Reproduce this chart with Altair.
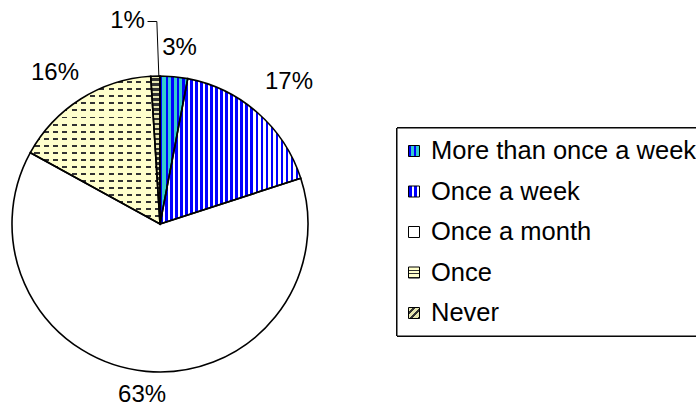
import altair as alt
import pandas as pd

# Survey answers: how often respondents did it
categories = ["More than once a week", "Once a week", "Once a month", "Once", "Never"]
shares = [3, 17, 63, 16, 1]
labels = ["3%", "17%", "63%", "16%", "1%"]

FONT = "Liberation Sans"
CX, CY, R = 160, 224, 148          # pie centre and radius (px)
LABEL_R = 180                      # radius for the data labels
# small hand adjustments of each label around its polar position
NUDGE_X = [2.6, 10, -1, -8.6, -26.8]
NUDGE_Y = [3.2, -6.5, -8, 1, -22.6]
LEG_X, LEG_Y0, LEG_STEP = 414, 151, 40.5

BLUE, TEAL, YELLOW, DARK = "#0000FF", "#33CCCC", "#FFFFCC", "#333333"


def stripes(c1, c2, n, frac=0.5, x2=1, y2=0):
    """Hard-stop linear gradient that paints n repeating bands of c1/c2."""
    stops = []
    for i in range(n):
        a, b, c = i / n, (i + frac) / n, (i + 1) / n
        stops += [
            alt.GradientStop(offset=a, color=c1),
            alt.GradientStop(offset=b, color=c1),
            alt.GradientStop(offset=b, color=c2),
            alt.GradientStop(offset=c, color=c2),
        ]
    return alt.LinearGradient(gradient="linear", stops=stops, x1=0, y1=0, x2=x2, y2=y2)


df = pd.DataFrame({
    "category": categories,
    "share": shares,
    "label": labels,
    "order": list(range(len(categories))),
})

base = alt.Chart(df).transform_window(
    end="sum(share)", sort=[alt.SortField("order")], frame=[None, 0]
).transform_calculate(
    start="datum.end - datum.share",
    mid="(datum.start + datum.end) / 2",
)

theta_scale = alt.Scale(domain=[0, 100], range=[0, 6.283185307179586])
pos = dict(x=alt.value(CX), y=alt.value(CY))


def slice_layer(cat, fill):
    return base.transform_filter(alt.datum.category == cat).mark_arc(
        outerRadius=R, fill=fill, strokeWidth=0
    ).encode(
        theta=alt.Theta("start:Q", scale=theta_scale),
        theta2="end:Q",
        **pos,
    )


slices = [
    slice_layer("More than once a week", stripes(BLUE, TEAL, 5, frac=0.45)),
    slice_layer("Once a week", stripes(BLUE, "#FFFFFF", 28, frac=0.55)),
    slice_layer("Once a month", "#FFFFFF"),
    slice_layer("Once", stripes(YELLOW, DARK, 21, frac=0.72, x2=0, y2=1)),
    # break the dark lines into dashes
    slice_layer("Once", stripes(YELLOW, "rgba(255,255,204,0)", 14, frac=0.45)),
    slice_layer("Never", stripes("#E6E6B0", DARK, 30, frac=0.5, x2=0, y2=1)),
]

outline = base.mark_arc(
    outerRadius=R, fillOpacity=0, stroke="black", strokeWidth=1.6
).encode(
    theta=alt.Theta("start:Q", scale=theta_scale),
    theta2="end:Q",
    **pos,
)

nx = "[" + ",".join(str(v) for v in NUDGE_X) + "][datum.order]"
ny = "[" + ",".join(str(v) for v in NUDGE_Y) + "][datum.order]"
label_base = base.transform_calculate(
    ang="datum.mid * PI / 50",
).transform_calculate(
    lx=f"{CX} + {LABEL_R} * sin(datum.ang) + {nx}",
    ly=f"{CY} - {LABEL_R} * cos(datum.ang) + {ny}",
)

text_labels = label_base.mark_text(
    font=FONT, fontSize=24, align="center", baseline="middle", color="black"
).encode(
    x=alt.X("lx:Q", scale=None),
    y=alt.Y("ly:Q", scale=None),
    text="label:N",
)

# leader line from the smallest slice to its label
leader_base = label_base.transform_filter(alt.datum.category == "Never").transform_calculate(
    ex=f"{CX} + {R} * sin(datum.ang) + 3.5",
    ey=f"{CY} - {R} * cos(datum.ang)",
    bx="datum.ex - 2",
    sx="datum.lx + 20",
)
leader_h = leader_base.mark_rule(color="black", strokeWidth=1).encode(
    x=alt.X("sx:Q", scale=None), x2="bx:Q",
    y=alt.Y("ly:Q", scale=None), y2="ly:Q",
)
leader_v = leader_base.mark_rule(color="black", strokeWidth=1).encode(
    x=alt.X("bx:Q", scale=None), x2="ex:Q",
    y=alt.Y("ly:Q", scale=None), y2="ey:Q",
)

# legend
legend_box = alt.Chart(df).mark_rect(
    fill="white", stroke="black", strokeWidth=1
).encode(
    x=alt.value(397), x2=alt.value(720), y=alt.value(128), y2=alt.value(336)
)

leg_base = alt.Chart(df).transform_calculate(
    ly=f"{LEG_Y0} + datum.order * {LEG_STEP}"
)
leg_fills = {
    "More than once a week": stripes(BLUE, TEAL, 2, frac=0.45),
    "Once a week": stripes(BLUE, "#FFFFFF", 2, frac=0.55),
    "Once a month": "#FFFFFF",
    "Once": stripes(YELLOW, DARK, 3, frac=0.7, x2=0, y2=1),
    "Never": stripes("#E6E6B0", DARK, 3, frac=0.6, x2=1, y2=1),
}
leg_symbols = [
    leg_base.transform_filter(alt.datum.category == cat).mark_point(
        shape="square", size=121, filled=True, fill=fill, stroke="black",
        strokeWidth=1, opacity=1
    ).encode(
        x=alt.value(LEG_X),
        y=alt.Y("ly:Q", scale=None),
    )
    for cat, fill in leg_fills.items()
]
leg_text = leg_base.mark_text(
    font=FONT, fontSize=25.5, align="left", baseline="middle", color="black"
).encode(
    x=alt.value(LEG_X + 17),
    y=alt.Y("ly:Q", scale=None),
    text="category:N",
)

chart = alt.layer(
    *slices, outline, text_labels, leader_h, leader_v,
    legend_box, *leg_symbols, leg_text,
).properties(
    width=696, height=410, padding=0, autosize=alt.AutoSizeParams(type="none"),
    background="white",
).configure_view(stroke=None)

chart.save("out.html", embed_options={"renderer": "svg", "actions": False})
